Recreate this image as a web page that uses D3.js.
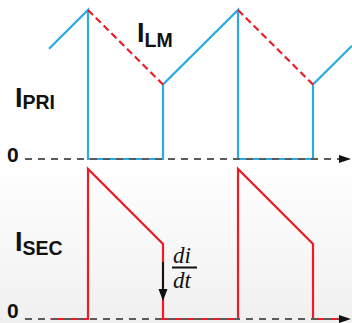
<!DOCTYPE html>
<html>
<head>
<meta charset="utf-8">
<script src="https://cdn.jsdelivr.net/npm/d3@7"></script>
<style>
  body { margin: 0; background: #fff; }
  svg { display: block; }
</style>
</head>
<body>
<div id="visuals"></div>
<script>
// switching times (one unit = one half period)
var priTime = [0.48, 1, 1, 2, 2, 3, 3, 4, 4, 4.52];
var priCurrent = [1.48, 2, 0, 0, 1, 2, 0, 0, 1, 1.52];

// magnetizing current during the off time (dashed)
var lmTime = [[1, 2], [3, 4]];
var lmCurrent = [[2, 1], [2, 1]];

var secTime = [0.5, 1, 1, 2, 2, 3, 3, 4, 4, 4.45];
var secCurrent = [0, 0, 2, 1, 0, 0, 2, 1, 0, 0];

var zeroLabel = "0";

drawWaveforms();

function drawWaveforms() {
    var width = 352, height = 323;

    var svg = d3.select("#visuals")
        .append("svg")
        .attr("width", width)
        .attr("height", height);

    var defs = svg.append("defs");
    var grad = defs.append("linearGradient")
        .attr("id", "bg")
        .attr("x1", 0).attr("y1", 0)
        .attr("x2", 0).attr("y2", 1);
    grad.append("stop").attr("offset", "0.5").attr("stop-color", "#ffffff");
    grad.append("stop").attr("offset", "1").attr("stop-color", "#f0f0f0");

    svg.append("rect")
        .attr("width", width)
        .attr("height", height)
        .attr("fill", "url(#bg)");

    var x = d3.scaleLinear().domain([0, 4]).range([13, 313]);
    var yTop = d3.scaleLinear().domain([0, 2]).range([159, 10]);
    var yBot = d3.scaleLinear().domain([0, 2]).range([319, 169]);

    var blue = "#29abe2", red = "#ee1c25";

    function zip(ts, vs) {
        return ts.map(function(t, i) { return [t, vs[i]]; });
    }

    // primary current
    var lineTop = d3.line()
        .x(function(d) { return x(d[0]); })
        .y(function(d) { return yTop(d[1]); });

    svg.append("path")
        .attr("d", lineTop(zip(priTime, priCurrent)))
        .attr("fill", "none")
        .attr("stroke", blue)
        .attr("stroke-width", 2.2);

    // magnetizing current, dashed red
    lmTime.forEach(function(ts, i) {
        svg.append("path")
            .attr("d", lineTop(zip(ts, lmCurrent[i])))
            .attr("fill", "none")
            .attr("stroke", red)
            .attr("stroke-width", 2.2)
            .attr("stroke-dasharray", "7,4");
    });

    // secondary current
    var lineBot = d3.line()
        .x(function(d) { return x(d[0]); })
        .y(function(d) { return yBot(d[1]); });

    svg.append("path")
        .attr("d", lineBot(zip(secTime, secCurrent)))
        .attr("fill", "none")
        .attr("stroke", red)
        .attr("stroke-width", 2.2);

    // zero axes, dashed, with arrow heads
    [[yTop, 3], [yBot, -1]].forEach(function(a) {
        var y0 = a[0](0);
        svg.append("line")
            .attr("x1", 25).attr("x2", 340)
            .attr("y1", y0).attr("y2", y0)
            .attr("stroke", "#5a5a5a")
            .attr("stroke-width", 2)
            .attr("stroke-dasharray", "7,6");
        svg.append("path")
            .attr("d", "M339," + (y0 - 4) + "L351," + y0 + "L339," + (y0 + 4) + "Z")
            .attr("fill", "#111");
        svg.append("text")
            .attr("x", 7)
            .attr("y", y0 + a[1])
            .attr("font-family", "Liberation Sans, Arial, sans-serif")
            .attr("font-weight", "bold")
            .attr("font-size", "21px")
            .attr("fill", "#111")
            .text(zeroLabel);
    });

    // current labels
    function label(px, py, main, sub, subDy) {
        var t = svg.append("text")
            .attr("x", px)
            .attr("y", py)
            .attr("font-family", "Liberation Sans, Arial, sans-serif")
            .attr("font-weight", "bold")
            .attr("fill", "#111");
        t.append("tspan").attr("font-size", "27px").text(main);
        t.append("tspan").attr("font-size", "19.5px").attr("dy", subDy).text(sub);
    }
    label(15, 107, "I", "PRI", 2);
    label(137, 42, "I", "LM", 5);
    label(15, 251, "I", "SEC", 4);

    // di/dt arrow
    var ax = x(2);
    svg.append("line")
        .attr("x1", ax).attr("x2", ax)
        .attr("y1", 262).attr("y2", 291)
        .attr("stroke", "#111")
        .attr("stroke-width", 2);
    svg.append("path")
        .attr("d", "M" + (ax - 4.5) + ",289L" + (ax + 4.5) + ",289L" + ax + ",301Z")
        .attr("fill", "#111");

    var serif = "Liberation Serif, Times New Roman, serif";
    svg.append("text")
        .attr("x", 173).attr("y", 263)
        .attr("font-family", serif)
        .attr("font-style", "italic")
        .attr("font-size", "23px")
        .attr("fill", "#111")
        .text("di");
    svg.append("line")
        .attr("x1", 172).attr("x2", 197)
        .attr("y1", 267.5).attr("y2", 267.5)
        .attr("stroke", "#111")
        .attr("stroke-width", 2);
    svg.append("text")
        .attr("x", 173).attr("y", 288)
        .attr("font-family", serif)
        .attr("font-style", "italic")
        .attr("font-size", "23px")
        .attr("fill", "#111")
        .text("dt");
}
</script>
</body>
</html>
